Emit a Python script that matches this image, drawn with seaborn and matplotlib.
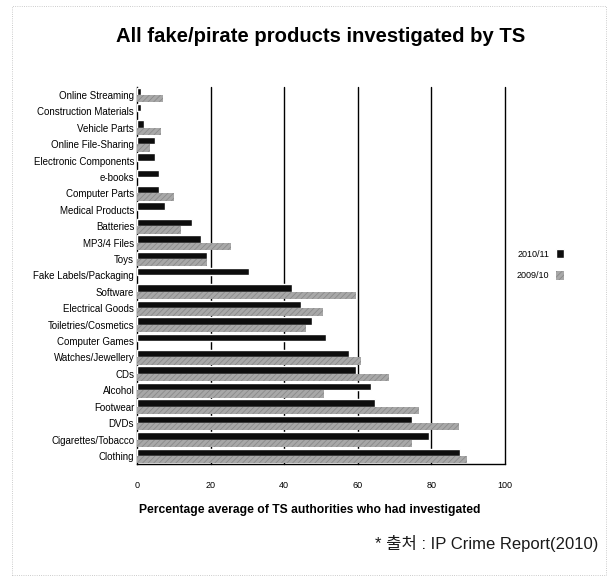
import numpy as np
import pandas as pd
import matplotlib
matplotlib.use("Agg")
import matplotlib.pyplot as plt
from matplotlib.patches import Patch, Rectangle
import seaborn as sns

# --- data ---
categories = [
    "Online Streaming", "Construction Materials", "Vehicle Parts", "Online File-Sharing",
    "Electronic Components", "e-books", "Computer Parts", "Medical Products",
    "Batteries", "MP3/4 Files", "Toys", "Fake Labels/Packaging", "Software",
    "Electrical Goods", "Toiletries/Cosmetics", "Computer Games", "Watches/Jewellery",
    "CDs", "Alcohol", "Footwear", "DVDs", "Cigarettes/Tobacco", "Clothing",
]
values_2010_11 = [1, 1, 2, 5, 5, 6, 6, 7.5, 15, 17.5, 19, 30.5, 42,
                  44.5, 47.5, 51.5, 57.5, 59.5, 63.5, 64.7, 74.8, 79.4, 87.9]
values_2009_10 = [7, 0, 6.5, 3.5, 0, 0, 10, 0, 12, 25.5, 19, 0, 59.5,
                  50.5, 46, 0, 61, 68.5, 50.7, 76.7, 87.6, 74.8, 89.8]
series = ["2010/11", "2009/10"]
x_ticks = [0, 20, 40, 60, 80, 100]

df = pd.DataFrame({
    "category": categories * 2,
    "value": values_2010_11 + values_2009_10,
    "year": [series[0]] * len(categories) + [series[1]] * len(categories),
})

sns.set_style("white")
plt.rcParams["font.family"] = ["Liberation Sans", "Noto Sans CJK KR", "DejaVu Sans"]
plt.rcParams["text.color"] = "black"
plt.rcParams["xtick.color"] = "black"
plt.rcParams["ytick.color"] = "black"
plt.rcParams["hatch.color"] = "#6e6e6e"
plt.rcParams["hatch.linewidth"] = 0.6

fig = plt.figure(figsize=(6.09, 5.78), dpi=100)
ax = fig.add_axes([0.225, 0.197, 0.604, 0.653])

palette = {"2010/11": "#0d0d0d", "2009/10": "#a8a8a8"}
sns.barplot(data=df, y="category", x="value", hue="year", order=categories,
            hue_order=series, palette=palette, orient="h", width=0.9,
            saturation=1, legend=False, ax=ax, zorder=3)

# hatch the grey series
for bar in ax.containers[1]:
    bar.set_hatch("//////")
    bar.set_edgecolor("#8a8a8a")
    bar.set_linewidth(0)

ax.set_xlim(0, 100)
ax.set_xticks(x_ticks)
ax.set_xticklabels([str(t) for t in x_ticks], fontsize=6.5)
ax.tick_params(axis="x", direction="inout", length=6, width=1, pad=9)
ax.tick_params(axis="y", length=0, labelsize=7, pad=2)
ax.set_yticks(np.arange(len(categories) + 1) - 0.5, minor=True)
ax.tick_params(axis="y", which="minor", length=3, width=0.8)
ax.set_xlabel("")
ax.set_ylabel("")

for t in x_ticks[1:]:
    ax.axvline(t, color="black", lw=1.0, zorder=1, clip_on=False)

for side in ["top", "right"]:
    ax.spines[side].set_visible(False)
for side in ["left", "bottom"]:
    ax.spines[side].set_color("black")
    ax.spines[side].set_linewidth(1.0)

fig.text(0.527, 0.936, "All fake/pirate products investigated by TS",
         ha="center", va="center", fontsize=14.6, fontweight="bold")
fig.text(0.509, 0.118, "Percentage average of TS authorities who had investigated",
         ha="center", va="center", fontsize=8.7, fontweight="bold")
fig.text(0.982, 0.06, "* 출처 : IP Crime Report(2010)", ha="right", va="center",
         fontsize=12, color="#1a1a1a")

handles = [Patch(facecolor=palette["2010/11"]),
           Patch(facecolor=palette["2009/10"], hatch="//////", edgecolor="#8a8a8a", linewidth=0)]
fig.legend(handles, series, loc="center left", bbox_to_anchor=(0.835, 0.542),
           frameon=False, markerfirst=False, fontsize=6.5, handlelength=0.9,
           handleheight=1.2, labelspacing=1.3, handletextpad=0.8)

# light dotted frame like the scanned page
fig.patches.append(Rectangle((0.02, 0.005), 0.975, 0.985, transform=fig.transFigure,
                             fill=False, ls=":", lw=0.6, ec="#bbbbbb"))

plt.savefig("out.png", dpi=100)
